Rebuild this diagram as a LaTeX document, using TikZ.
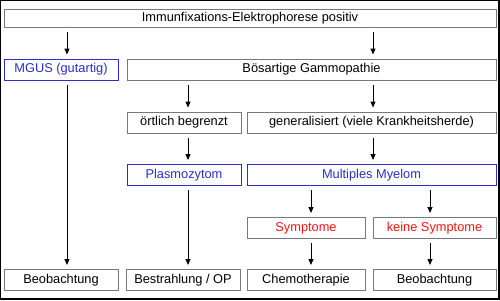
\documentclass[tikz,border=0pt]{standalone}
\usepackage{fontspec}
\setmainfont{Liberation Sans}
\usetikzlibrary{arrows.meta}
\definecolor{boxgray}{RGB}{120,120,120}
\definecolor{dblue}{RGB}{45,45,200}
\definecolor{tred}{RGB}{255,20,20}
\begin{document}
\begin{tikzpicture}[x=1pt,y=-1pt,
  box/.style={draw=boxgray,line width=1pt,rectangle,inner sep=0pt,minimum height=21pt,font=\fontsize{12.8}{14}\selectfont,text=black},
  bluebox/.style={box,draw=dblue,text=dblue},
  redbox/.style={box,text=tred},
  arr/.style={line width=1pt,-{Triangle[length=6pt,width=5pt]},shorten <=4pt,shorten >=4pt}]
\useasboundingbox (0,0) rectangle (500,300);
\fill[white] (0,0) rectangle (500,300);
\draw[line width=1pt] (0.5,0.5) -- (0.5,299) ;
\draw[line width=1pt] (0,0.5) -- (499,0.5);
\draw[line width=2pt] (0,299) -- (499,299) -- (499,0);
% nodes
\node[box,minimum width=492pt,minimum height=18pt] (top) at (250,18) {Immunfixations-Elektrophorese positiv};
\node[bluebox,minimum width=114pt] (mgus) at (61,69.5) {MGUS (gutartig)};
\node[box,minimum width=369pt] (bos) at (311.5,69.5) {Bösartige Gammopathie};
\node[box,minimum width=114pt] (ort) at (184,122.5) {örtlich begrenzt};
\node[box,minimum width=249pt] (gen) at (371.5,122.5) {generalisiert (viele Krankheitsherde)};
\node[bluebox,minimum width=114pt] (plas) at (184,175) {Plasmozytom};
\node[bluebox,minimum width=249pt] (mm) at (371.5,175) {Multiples Myelom};
\node[redbox,minimum width=118pt] (sym) at (306,228) {Symptome};
\node[redbox,minimum width=123pt] (ksym) at (434.5,228) {keine Symptome};
\node[box,minimum width=114pt] (beo1) at (61,280) {Beobachtung};
\node[box,minimum width=114pt] (bes) at (183,280) {Bestrahlung / OP};
\node[box,minimum width=118pt] (chemo) at (306,280) {Chemotherapie};
\node[box,minimum width=123pt] (beo2) at (434.5,280) {Beobachtung};
% arrow x positions
\coordinate (xa) at (67,0);
\coordinate (xb) at (188,0);
\coordinate (xc) at (311,0);
\coordinate (xd) at (373,0);
\coordinate (xe) at (430,0);
% connectors
\draw[arr] (top.south -| xa) -- (mgus.north -| xa);
\draw[arr] (top.south -| xd) -- (bos.north -| xd);
\draw[arr] (mgus.south -| xa) -- (beo1.north -| xa);
\draw[arr] (bos.south -| xb) -- (ort.north -| xb);
\draw[arr] (bos.south -| xd) -- (gen.north -| xd);
\draw[arr] (ort.south -| xb) -- (plas.north -| xb);
\draw[arr] (gen.south -| xd) -- (mm.north -| xd);
\draw[arr] (plas.south -| xb) -- (bes.north -| xb);
\draw[arr] (mm.south -| xc) -- (sym.north -| xc);
\draw[arr] (mm.south -| xe) -- (ksym.north -| xe);
\draw[arr] (sym.south -| xc) -- (chemo.north -| xc);
\draw[arr] (ksym.south -| xe) -- (beo2.north -| xe);
\end{tikzpicture}
\end{document}
